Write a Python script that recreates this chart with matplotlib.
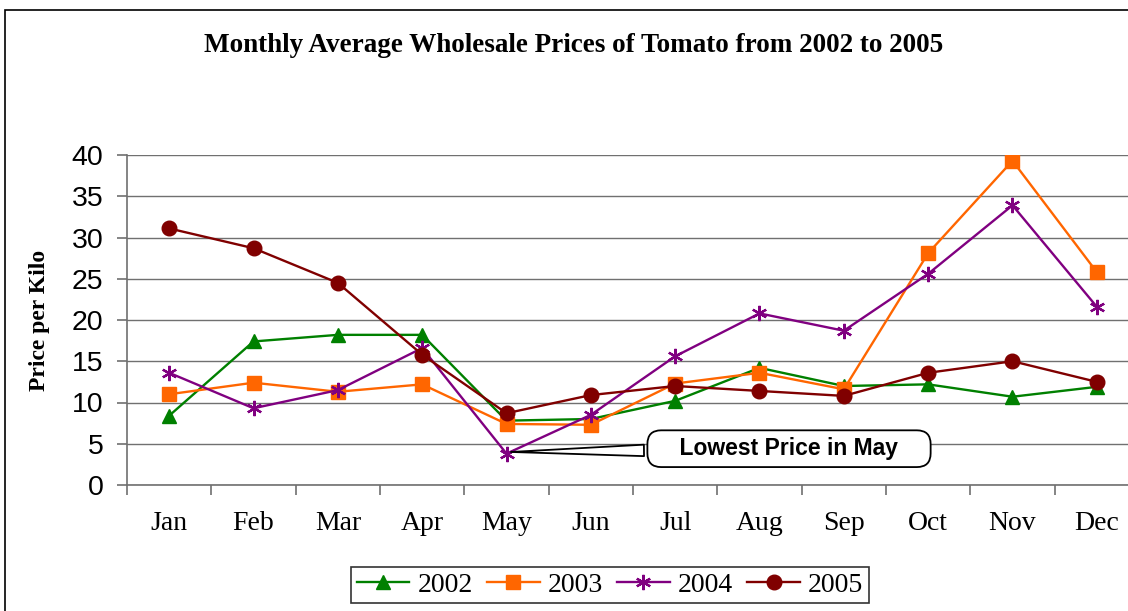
import matplotlib.pyplot as plt
from matplotlib.patches import Rectangle

# monthly average wholesale prices (per kilo)
months = ["Jan", "Feb", "Mar", "Apr", "May", "Jun",
          "Jul", "Aug", "Sep", "Oct", "Nov", "Dec"]
years = ["2002", "2003", "2004", "2005"]
price_2002 = [8.4, 17.4, 18.2, 18.2, 7.8, 8.0, 10.2, 14.2, 12.0, 12.2, 10.7, 11.9]
price_2003 = [11.0, 12.4, 11.3, 12.2, 7.4, 7.3, 12.3, 13.6, 11.6, 28.1, 39.3, 25.8]
price_2004 = [13.6, 9.3, 11.5, 16.6, 3.8, 8.5, 15.6, 20.8, 18.7, 25.6, 33.9, 21.6]
price_2005 = [31.1, 28.7, 24.5, 15.8, 8.7, 10.9, 12.0, 11.4, 10.8, 13.6, 15.0, 12.5]

colors = ["#008000", "#FF6600", "#800080", "#800000"]
markers = ["^", "s", "*", "o"]

SERIF = "Liberation Serif"
SANS = "Liberation Sans"
AXIS_GREY = "#707070"


def plot_prices():
    fig = plt.figure(figsize=(11.28, 6.11), dpi=100)
    # outer chart frame (runs off the right and bottom edges like the original)
    fig.patches.append(Rectangle((5 / 1128, -0.05), 1.2, 1 - 10 / 611 + 0.05,
                                 transform=fig.transFigure, fill=False,
                                 ec="black", lw=1.2))

    ax = fig.add_axes([127 / 1128, 126 / 611, 1012 / 1128, 330 / 611])
    x = list(range(len(months)))
    series = [price_2002, price_2003, price_2004, price_2005]
    for vals, yr, c, m in zip(series, years, colors, markers):
        ms = 10.5
        mew = 1
        if m == "s":
            ms = 10
        if m == "*":
            m = (6, 2, 0)  # asterisk
            ms = 11
            mew = 1.6
        ax.plot(x, vals, color=c, lw=1.7, marker=m, markersize=ms,
                markeredgewidth=mew, markeredgecolor=c, markerfacecolor=c,
                label=yr)

    ax.set_xlim(-0.5, 11.5)
    ax.set_ylim(0, 40)
    ax.set_yticks(range(0, 41, 5))
    ax.yaxis.grid(True, color=AXIS_GREY, lw=1)
    ax.set_axisbelow(True)
    for s in ["top", "right"]:
        ax.spines[s].set_visible(False)
    for s in ["left", "bottom"]:
        ax.spines[s].set_color(AXIS_GREY)
        ax.spines[s].set_linewidth(1.2)

    ax.set_xticks(x)
    ax.set_xticklabels(months, fontfamily=SERIF, fontsize=20)
    ax.set_xticks([i + 0.5 for i in range(-1, 12)], minor=True)
    ax.tick_params(axis="x", which="major", length=0, pad=19)
    ax.tick_params(axis="x", which="minor", length=7, color=AXIS_GREY, width=1.2)
    ax.tick_params(axis="y", length=7, color=AXIS_GREY, width=1.2, pad=10)
    for lbl in ax.get_yticklabels():
        lbl.set_fontfamily(SANS)
        lbl.set_fontsize(20.5)

    ax.set_ylabel("Price per Kilo", fontfamily=SERIF, fontweight="bold",
                  fontsize=17)
    ax.yaxis.set_label_coords(-77 / 1012, 0.5)

    fig.text(574 / 1128, 1 - 45 / 611,
             "Monthly Average Wholesale Prices of Tomato from 2002 to 2005",
             ha="center", va="center", fontfamily=SERIF, fontweight="bold",
             fontsize=19.5)

    # callout for the May low
    ax.annotate("    Lowest Price in May    ", xy=(4.02, 4.0), xytext=(7.35, 4.4),
                ha="center", va="center", fontfamily=SANS, fontweight="bold",
                fontsize=16.5,
                bbox=dict(boxstyle="round,pad=0.3,rounding_size=0.6",
                          fc="white", ec="black", lw=1.3),
                arrowprops=dict(arrowstyle="wedge,tail_width=0.5,shrink_factor=0.5",
                                fc="white", ec="black", lw=1.3))

    leg = fig.legend(loc="center", bbox_to_anchor=(610 / 1128, 1 - 585 / 611),
                     ncol=4, frameon=True, fancybox=False, edgecolor="black",
                     prop={"family": SERIF, "size": 20}, handlelength=1.9,
                     handletextpad=0.3, columnspacing=0.5, borderpad=0.2,
                     borderaxespad=0)
    leg.get_frame().set_linewidth(1.2)

    fig.savefig("out.png", dpi=100)


if __name__ == "__main__":
    plot_prices()
